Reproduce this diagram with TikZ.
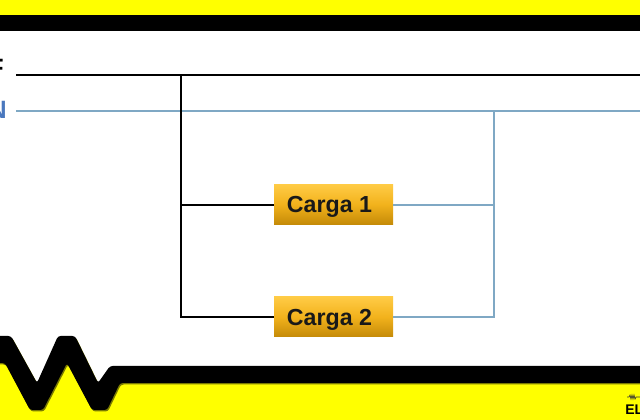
\documentclass[tikz,border=0pt]{standalone}
\usepackage{fontspec}
\setmainfont{Liberation Sans}
\usetikzlibrary{positioning}
\definecolor{neutro}{HTML}{7FA8C4}
\definecolor{letran}{HTML}{4A78BE}
\definecolor{amarillo}{HTML}{FFFF00}
\definecolor{sombra}{HTML}{7A7A00}
\definecolor{cargatop}{HTML}{FFCB45}
\definecolor{cargamid}{HTML}{F2B21C}
\definecolor{cargabot}{HTML}{C48A08}
\newcommand{\textocarga}[1]{\hspace*{-6pt}\raisebox{-6.2pt}[0pt][0pt]{#1}}
\tikzset{
    carga/.style={minimum width=89.25pt,minimum height=30pt,inner sep=0pt,top color=cargatop,bottom color=cargabot,middle color=cargamid,font=\bfseries\fontsize{17.4}{20}\selectfont,text=black!90},
    fase/.style={line width=1.5pt,black},
    neutral/.style={line width=1.7pt,neutro},
    letra/.style={font=\bfseries\fontsize{18.8}{20}\selectfont,inner sep=0pt,anchor=east}
}
\begin{document}
\begin{tikzpicture}[x=0.75pt,y=0.75pt,yscale=-1,xscale=1]
    \useasboundingbox (0,0) rectangle (640,420);
    \clip (0,0) rectangle (640,420);
    \fill [white] (0,0) rectangle (640,420);

    %Top band
    \fill [amarillo] (0,0) rectangle (640,15);
    \fill [black] (0,15) rectangle (640,31);

    %Bottom band
    \fill [amarillo] (-6,350) -- (30,395) -- (67,350) -- (100,395) -- (120,375) -- (645,375) -- (645,425) -- (-6,425) -- cycle;
    \fill [sombra, rounded corners=2pt, shift={(1,1.5)}] (-6,336) -- (11,336) -- (37,383) -- (58,336) -- (75,336) -- (98,383) -- (110,366) -- (645,366) -- (645,383) -- (120,383) -- (107,410) -- (92,410) -- (67,363) -- (43,410) -- (30,410) -- (5,363) -- (-6,363) -- cycle;
    \fill [black, rounded corners=2pt] (-6,336) -- (11,336) -- (37,383) -- (58,336) -- (75,336) -- (98,383) -- (110,366) -- (645,366) -- (645,383) -- (120,383) -- (107,410) -- (92,410) -- (67,363) -- (43,410) -- (30,410) -- (5,363) -- (-6,363) -- cycle;

    % Text Node
    \node (letraF) [letra] at (4,68) {F};
    \node (letraN) [letra, text=letran] at (7,110) {N};
    % Text Node
    \node (carga1) [carga] at (333.5,204.5) {\textocarga{Carga 1}};
    \node (carga2) [carga] at (333.5,317) {\textocarga{Carga 2}};
    % Text Node
    \draw [line width=0.5pt, black!80] (627,397) -- (629,397) -- (630,395) -- (631,399) -- (632,395) -- (633,399) -- (634,395) -- (635,399) -- (636,397) -- (640,397);
    \node (marca) [anchor=base west, inner sep=0pt, font=\bfseries\fontsize{10.5}{12}\selectfont] at (625,415) {EL};

    \coordinate (fini) at (16,75);
    \coordinate (ffin) at (640,75);
    \coordinate (nini) at (16,111);
    \coordinate (nfin) at (640,111);
    \coordinate (fnudo) at (181,75);
    \coordinate (nnudo) at (494,111);
    \coordinate (rama1) at (0,205);

    %Straight Lines
    \draw [neutral] (nini) -- (nfin);
    \draw [neutral] (nnudo) |- (carga2.east);
    \draw [neutral] (carga1.east |- rama1) -- (nnudo |- rama1);
    %Straight Lines
    \draw [fase] (fini) -- (ffin);
    \draw [fase] (fnudo) |- (carga2.west);
    \draw [fase] (carga1.west |- rama1) -- (fnudo |- rama1);
\end{tikzpicture}
\end{document}
